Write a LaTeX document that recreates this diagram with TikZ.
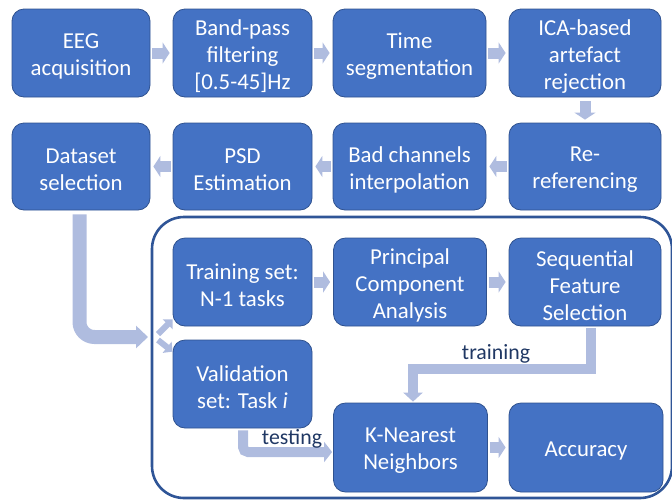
\documentclass[tikz,border=0pt]{standalone}
\usepackage{fontspec}
\setmainfont{Carlito}
\usetikzlibrary{arrows.meta}
\definecolor{boxblue}{HTML}{4472C4}
\definecolor{boxedge}{HTML}{2F528F}
\definecolor{flow}{HTML}{AFBCDF}
\definecolor{frameblue}{HTML}{2F5597}
\definecolor{labelnavy}{HTML}{203864}

% a stage: rounded box plus its caption, set slightly below the geometric centre
\newcommand\stagenode[5]{%
  \node[stagebox, minimum width=#2, minimum height=#3] (#1) at #4 {};
  \node[stagetext] (#1-text) at ([yshift=-3.5pt]#1.center) {#5};}

\begin{document}
\begin{tikzpicture}[x=1pt,y=-1pt,
  stagebox/.style={draw=boxedge, line width=0.8pt, fill=boxblue, rounded corners=12pt,
    inner sep=0pt},
  stagetext/.style={text=white, align=center, font=\fontsize{22.8}{27}\selectfont,
    inner sep=0pt},
  flowarrow/.style={draw=flow, line width=11pt, line join=miter,
    -{Triangle[length=7pt,width=21pt]}},
  bigflow/.style={draw=flow, line width=14pt, rounded corners=15pt,
    -{Triangle[length=12pt,width=22pt]}},
  forkarrow/.style={draw=flow, line width=6pt,
    -{Triangle[length=7pt,width=14pt]}},
  pathlabel/.style={text=labelnavy, font=\fontsize{21.8}{27}\selectfont, inner sep=0pt}]
\useasboundingbox (0,0) rectangle (672,499);

% preprocessing chain, first row
\stagenode{eeg}{138pt}{88pt}{(81,53)}{EEG\\acquisition}
\stagenode{band}{139pt}{88pt}{(242.5,53)}{Band-pass\\filtering\\{[0.5-45]Hz}}
\stagenode{time}{153pt}{88pt}{(409.5,53)}{Time\\segmentation}
\stagenode{ica}{152pt}{88pt}{(585,53)}{ICA-based\\artefact\\rejection}

% preprocessing chain, second row
\stagenode{dataset}{138pt}{87pt}{(81,166.5)}{Dataset\\selection}
\stagenode{psd}{139pt}{87pt}{(242.5,166.5)}{PSD\\Estimation}
\stagenode{bad}{153pt}{87pt}{(409.5,166.5)}{Bad channels\\interpolation}
\stagenode{reref}{152pt}{87pt}{(585,166.5)}{Re-\\referencing}

% cross-validation frame
\draw[frameblue, line width=2.6pt, rounded corners=32pt] (152,217) rectangle (672,498);

\stagenode{train}{139pt}{88pt}{(242.5,282)}{Training set:\\N-1 tasks}
\stagenode{valid}{139pt}{88pt}{(242.5,384)}{Validation\\set: Task \textit{i}}
\stagenode{pca}{153pt}{88pt}{(410,282)}{Principal\\Component\\Analysis}
\stagenode{seq}{152pt}{88pt}{(585,282)}{Sequential\\Feature\\Selection}
\stagenode{knn}{154pt}{89pt}{(410.5,447.5)}{K-Nearest\\Neighbors}
\stagenode{acc}{154pt}{89pt}{(586,447.5)}{Accuracy}

% arrows between stages
\draw[flowarrow] ([xshift=2pt]eeg.east) -- ([xshift=-3pt]band.west);
\draw[flowarrow] ([xshift=2pt]band.east) -- ([xshift=-3pt]time.west);
\draw[flowarrow] ([xshift=2pt]time.east) -- ([xshift=-3pt]ica.west);
\draw[flowarrow] ([yshift=-4pt]ica.south) -- ([yshift=3pt]reref.north);
\draw[flowarrow] ([xshift=-2pt]reref.west) -- ([xshift=3pt]bad.east);
\draw[flowarrow] ([xshift=-2pt]bad.west) -- ([xshift=3pt]psd.east);
\draw[flowarrow] ([xshift=-2pt]psd.west) -- ([xshift=3pt]dataset.east);

% dataset into the cross-validation loop
\coordinate (entry) at (148,337);
\draw[bigflow] ([xshift=-1.5pt,yshift=-4pt]dataset.south) |- (entry);
\coordinate (forkup) at (158,334);
\coordinate (forkdown) at (158,340);
\draw[forkarrow] (forkup) -- ([yshift=7pt]train.south west);
\draw[forkarrow] (forkdown) -- ([yshift=-12pt]valid.north west);

% training branch
\draw[flowarrow] ([xshift=2pt]train.east) -- ([xshift=-3pt]pca.west);
\draw[flowarrow] ([xshift=2pt]pca.east) -- ([xshift=-3pt]seq.west);
\draw[flowarrow, line width=10pt, -{Triangle[length=9pt,width=19pt]}]
  ([xshift=6pt,yshift=-2pt]seq.south) -- ++(0,41) -| ([xshift=2.5pt,yshift=1pt]knn.north);
\node[pathlabel] (trainlabel) at (496,354) {training};

% testing branch
\draw[flowarrow, line width=10pt, rounded corners=5pt, -{Triangle[length=8pt,width=20pt]}]
  ([xshift=0.5pt,yshift=-2pt]valid.south) |- ([xshift=-1pt,yshift=-4.5pt]knn.west);
\node[pathlabel] (testlabel) at (292,439) {testing};

\draw[flowarrow] ([xshift=2pt]knn.east) -- ([xshift=-3pt]acc.west);
\end{tikzpicture}
\end{document}
